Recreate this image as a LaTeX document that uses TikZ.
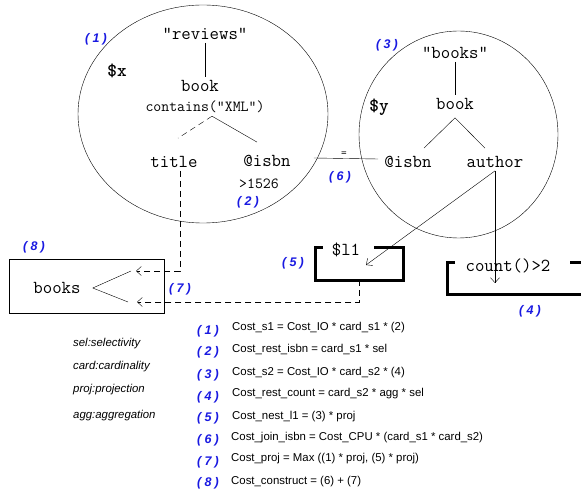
\documentclass[tikz,border=0pt]{standalone}
\usepackage{fontspec}
\setmainfont{Liberation Sans}
\usetikzlibrary{arrows.meta}
\usetikzlibrary{shapes.geometric}
\definecolor{myblue}{RGB}{25,25,225}
\tikzset{
  >={Straight Barb[length=5,width=9]},
  scope oval/.style={draw,ellipse,thin,inner sep=0},
  tree label/.style={font=\ttfamily\fontsize{18.3}{18}\selectfont,inner sep=3},
  small label/.style={tree label,font=\ttfamily\fontsize{15.4}{15}\selectfont},
  tiny label/.style={tree label,font=\ttfamily\fontsize{11}{11}\selectfont,inner sep=0},
  var label/.style={font=\ttfamily\bfseries\fontsize{18.3}{18}\selectfont,inner sep=0},
  step num/.style={text=myblue,font=\bfseries\itshape\fontsize{12.5}{12}\selectfont,inner sep=0},
  cost text/.style={anchor=west,font=\fontsize{11.4}{13}\selectfont,inner sep=0},
  legend text/.style={anchor=west,font=\itshape\fontsize{11.4}{13}\selectfont,inner sep=0},
  tree edge/.style={thin},
  dash edge/.style={thin,dash pattern=on 6pt off 4pt},
  flow arrow/.style={->,thin},
  dash arrow/.style={->,thin,dash pattern=on 6pt off 4pt},
  result box/.style={line width=3pt},
}
\newcommand{\stepno}[1]{(\hspace{3.2pt}#1\hspace{3.2pt})}

\begin{document}
\begin{tikzpicture}[x=1pt,y=-1pt]
  \useasboundingbox (0,0) rectangle (581,494);

  % pattern trees
  \node[scope oval,minimum width=250,minimum height=218] (s1) at (203,114) {};
  \node[scope oval,minimum width=199,minimum height=207] (s2) at (458.5,134.5) {};

  \node[tree label] (rev) at (205,34) {"reviews"};
  \node[tree label] (book1) at (200,86) {book};
  \node[small label] (cont) at (205,107) {contains("XML")};
  \node[tree label] (title) at (174,162) {title};
  \node[tree label] (isbn1) at (267,161) {@isbn};
  \node[small label] (gt) at (259,184) {>1526};
  \node[var label] (x) at (117,71) {\$x};
  \node[step num] (n1) at (96,39) {\stepno{1}};
  \node[step num] (n2) at (248,202) {\stepno{2}};

  \draw[tree edge] (rev.south) -- (rev.south |- book1.north);
  \draw[dash edge] ([xshift=7]cont.south) -- ([xshift=4,yshift=15]title.north);
  \draw[tree edge] ([xshift=7]cont.south) -- ([xshift=-10,yshift=10]isbn1.north);

  \node[tree label] (bks) at (455,53) {"books"};
  \node[tree label] (book2) at (455,104) {book};
  \node[tree label] (isbn2) at (408,162) {@isbn};
  \node[tree label] (auth) at (495,162) {author};
  \node[var label] (y) at (379,107) {\$y};
  \node[step num] (n3) at (387,45) {\stepno{3}};

  \draw[tree edge] (bks) -- (book2);
  \draw[tree edge] ([yshift=-5]book2.south) -- ([xshift=16,yshift=5]isbn2.north);
  \draw[tree edge] ([yshift=-5]book2.south) -- ([xshift=-10,yshift=5]auth.north);

  % join on isbn
  \draw[tree edge] ([xshift=20,yshift=3]isbn1.east) -- ([xshift=-3,yshift=3]isbn2.west);
  \node[tiny label] (eq) at (344,154) {=};
  \node[step num] (n6) at (340,177) {\stepno{6}};

  % nested result
  \node[minimum width=87,minimum height=32,inner sep=0] (l1box) at (359.5,264) {};
  \draw[result box] ([xshift=7]l1box.north west) -- (l1box.north west) -- (l1box.south west)
    -- (l1box.south east) -- (l1box.north east) -- ([xshift=-29]l1box.north east);
  \node[tree label] (l1) at (346,250) {\$l1};
  \node[step num] (n5) at (293,263) {\stepno{5}};

  \node[minimum width=150,minimum height=31,inner sep=0] (cntbox) at (523,278.5) {};
  \draw[result box] ([xshift=7]cntbox.north west) -- (cntbox.north west) -- (cntbox.south west)
    -- (cntbox.south east);
  \draw[result box] ([xshift=-28]cntbox.north east) -- (cntbox.north east);
  \node[tree label] (cnt) at (508,266) {count()>2};
  \node[step num] (n4) at (530,311) {\stepno{4}};

  \coordinate (l1in) at (366,265);
  \coordinate (cntin) at (495,283);
  \draw[flow arrow] (auth.south) -- (l1in);
  \draw[flow arrow] (auth.south) -- (cntin);

  % construct
  \node[draw,thin,minimum width=155,minimum height=54,inner sep=0] (outbox) at (86.5,286) {};
  \node[tree label] (booksout) at (57,288) {books};
  \node[step num] (n8) at (34,247) {\stepno{8}};
  \node[step num] (n7) at (180,289) {\stepno{7}};
  \coordinate (in1) at (136,271);
  \coordinate (in2) at (137,302);
  \draw[tree edge] ([xshift=9]booksout.east) -- ([xshift=-5]in1);
  \draw[tree edge] ([xshift=9]booksout.east) -- ([xshift=-9]in2);
  \draw[dash arrow] ([xshift=6]title.south) |- (in1);
  \draw[dash arrow] (l1box.south) |- (in2);

  % legend
  \node[legend text] (lsel) at (73,344) {sel:selectivity};
  \node[legend text] (lcard) at (73,367) {card:cardinality};
  \node[legend text] (lproj) at (73,390) {proj:projection};
  \node[legend text] (lagg) at (73,416) {agg:aggregation};

  % cost formulas
  \node[step num] (c1) at (208,331) {\stepno{1}};
  \node[step num] (c2) at (208,352) {\stepno{2}};
  \node[step num] (c3) at (208,375) {\stepno{3}};
  \node[step num] (c4) at (208,397) {\stepno{4}};
  \node[step num] (c5) at (208,418) {\stepno{5}};
  \node[step num] (c6) at (208,440) {\stepno{6}};
  \node[step num] (c7) at (208,462) {\stepno{7}};
  \node[step num] (c8) at (208,483) {\stepno{8}};
  \node[cost text] (f1) at (232,328) {Cost\_s1 = Cost\_IO * card\_s1 * (2)};
  \node[cost text] (f2) at (232,350) {Cost\_rest\_isbn = card\_s1 * sel};
  \node[cost text] (f3) at (232,373) {Cost\_s2 = Cost\_IO * card\_s2 * (4)};
  \node[cost text] (f4) at (232,394) {Cost\_rest\_count = card\_s2 * agg * sel};
  \node[cost text] (f5) at (232,417) {Cost\_nest\_l1 = (3) * proj};
  \node[cost text] (f6) at (231,438) {Cost\_join\_isbn = Cost\_CPU * (card\_s1 * card\_s2)};
  \node[cost text] (f7) at (231,459) {Cost\_proj = Max ((1) * proj, (5) * proj)};
  \node[cost text] (f8) at (231,482) {Cost\_construct = (6) + (7)};
\end{tikzpicture}
\end{document}
